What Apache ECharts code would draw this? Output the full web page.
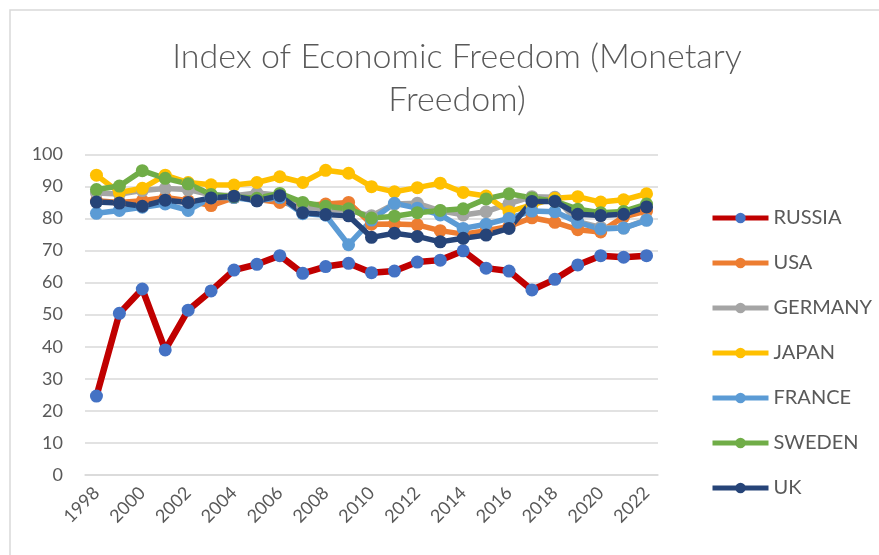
<!DOCTYPE html>
<html>
<head>
<meta charset="utf-8">
<script src="https://cdn.jsdelivr.net/npm/echarts@6/dist/echarts.min.js"></script>
<style>
  html, body { margin: 0; padding: 0; background: #fff; }
  #chart { width: 879px; height: 555px; }
</style>
</head>
<body>
<div id="chart"></div>
<script>
// Index of Economic Freedom — Monetary Freedom, 1998-2022
var years = ['1998','1999','2000','2001','2002','2003','2004','2005','2006','2007','2008','2009',
  '2010','2011','2012','2013','2014','2015','2016','2017','2018','2019','2020','2021','2022'];

var russia  = [24.6, 50.4, 58.0, 39.0, 51.4, 57.4, 63.9, 65.7, 68.4, 62.9, 65.0, 66.0, 63.1, 63.6, 66.4, 67.0, 69.9, 64.5, 63.6, 57.7, 61.0, 65.5, 68.4, 67.9, 68.4];
var usa     = [85.5, 85.0, 85.5, 86.5, 85.5, 84.0, 86.5, 86.0, 85.0, 84.0, 84.5, 85.0, 78.2, 78.3, 78.0, 76.2, 75.1, 76.2, 77.5, 80.2, 78.8, 76.5, 75.8, 80.5, 82.3];
var germany = [87.9, 87.6, 88.7, 89.3, 89.0, 87.4, 87.1, 87.9, 87.2, 83.5, 83.0, 82.5, 80.8, 84.5, 84.7, 82.4, 81.1, 82.1, 84.6, 86.8, 86.6, 79.0, 77.2, 77.0, 79.6];
var japan   = [93.5, 88.1, 89.4, 93.5, 91.2, 90.5, 90.4, 91.2, 93.0, 91.2, 95.0, 94.1, 89.9, 88.3, 89.6, 91.0, 88.1, 87.0, 82.1, 84.2, 86.3, 86.8, 85.1, 85.8, 87.7];
var france  = [81.6, 82.5, 83.5, 84.5, 82.5, 86.5, 86.5, 85.5, 86.5, 81.5, 81.0, 71.8, 79.5, 84.7, 83.2, 81.1, 76.9, 78.2, 80.0, 82.3, 82.1, 78.8, 76.7, 77.0, 79.4];
var sweden  = [89.0, 90.1, 94.9, 92.5, 90.8, 87.5, 86.8, 86.3, 87.8, 85.0, 83.8, 83.0, 80.1, 80.7, 81.8, 82.5, 83.0, 86.1, 87.7, 86.4, 85.4, 82.9, 81.8, 82.2, 84.5];
var uk      = [85.1, 84.8, 83.8, 85.7, 85.0, 86.4, 86.9, 85.5, 87.1, 81.8, 81.2, 80.8, 74.1, 75.4, 74.4, 72.7, 73.8, 74.8, 76.9, 85.3, 85.3, 81.3, 80.9, 81.3, 83.6];

var font = 'Lato, "Open Sans", sans-serif';
var textGray = '#595959';
var gridGray = '#d9d9d9';

function line(name, data, color, markerColor, width) {
  return {
    name: name,
    type: 'line',
    data: data,
    symbol: 'circle',
    symbolSize: 13,
    lineStyle: { color: color, width: width || 5.5 },
    itemStyle: { color: markerColor || color, borderWidth: 0 },
    emphasis: { disabled: true }
  };
}

var chart = echarts.init(document.getElementById('chart'), null, { renderer: 'canvas' });
chart.setOption({
  animation: false,
  backgroundColor: '#fff',
  textStyle: { fontFamily: font },
  title: {
    text: 'Index of Economic Freedom (Monetary\nFreedom)',
    left: 452, top: 31,
    textAlign: 'center',
    textStyle: { fontFamily: font, fontSize: 34, fontWeight: 300, color: textGray, lineHeight: 43 }
  },
  graphic: [{
    type: 'rect',
    shape: { x: 10, y: 10, width: 900, height: 600 },
    style: { fill: 'none', stroke: gridGray, lineWidth: 1.5 },
    silent: true
  }],
  legend: {
    orient: 'vertical',
    left: 705, top: 203,
    itemWidth: 56, itemHeight: 13,
    itemGap: 25,
    lineStyle: { width: 5 },
    textStyle: { color: textGray, fontSize: 20, fontFamily: font },
    data: ['RUSSIA', 'USA', 'GERMANY', 'JAPAN', 'FRANCE', 'SWEDEN', 'UK']
  },
  grid: { left: 85, right: 221, top: 154.3, bottom: 80, containLabel: false },
  xAxis: {
    type: 'category',
    data: years,
    boundaryGap: true,
    axisLine: { lineStyle: { color: gridGray, width: 1.5 } },
    axisTick: { show: false },
    axisLabel: {
      interval: 1,
      rotate: 45,
      margin: 15,
      color: textGray,
      fontSize: 18,
      fontFamily: font
    }
  },
  yAxis: {
    type: 'value',
    min: 0, max: 100, interval: 10,
    axisLine: { show: false },
    axisTick: { show: false },
    axisLabel: { color: textGray, fontSize: 18, margin: 22, fontFamily: font },
    splitLine: { lineStyle: { color: gridGray, width: 1.5 } }
  },
  series: [
    line('RUSSIA', russia, '#c00000', '#4472c4', 6.5),
    line('USA', usa, '#ed7d31'),
    line('GERMANY', germany, '#a5a5a5'),
    line('JAPAN', japan, '#ffc000'),
    line('FRANCE', france, '#5b9bd5'),
    line('SWEDEN', sweden, '#70ad47'),
    line('UK', uk, '#264478')
  ]
});
window.addEventListener('resize', function() { chart.resize(); });
</script>
</body>
</html>
